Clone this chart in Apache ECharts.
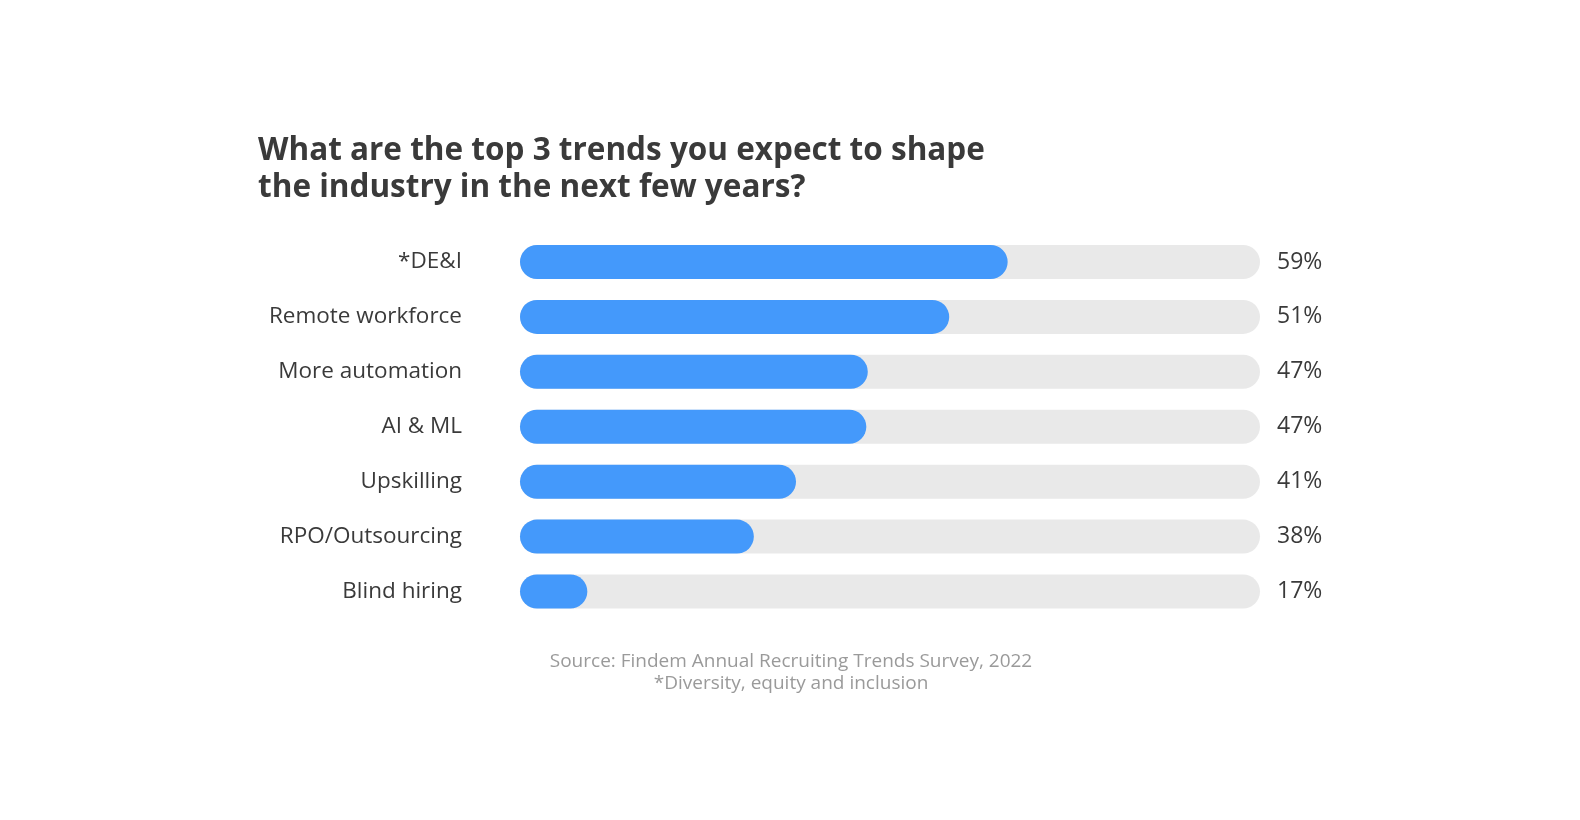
<!DOCTYPE html>
<html>
<head>
<meta charset="utf-8">
<script src="https://cdn.jsdelivr.net/npm/echarts@6/dist/echarts.min.js"></script>
<style>html,body{margin:0;padding:0;background:#fff;overflow:hidden;width:1580px;height:820px;}#c{position:absolute;left:0;top:0;width:1580px;height:820px;}</style>
</head>
<body>
<div id="c"></div>
<script>
const categories = ['*DE&I', 'Remote workforce', 'More automation', 'AI & ML', 'Upskilling', 'RPO/Outsourcing', 'Blind hiring'];
const values = [59, 51, 47, 47, 41, 38, 17];
// drawn bar length as share of the full track
const barShare = [65.9, 58.0, 47.0, 46.8, 37.3, 31.6, 9.1];
const trackMax = 100;

const chart = echarts.init(document.getElementById('c'));
const font = '"Open Sans", sans-serif';
chart.setOption({
  backgroundColor: '#fff',
  title: [{
    text: 'What are the top 3 trends you expect to shape\nthe industry in the next few years?',
    left: 253, top: 127,
    textStyle: { fontFamily: font, fontSize: 31.5, fontWeight: 'bold', color: '#3a3a3a', lineHeight: 37.5 }
  }, {
    text: 'Source: Findem Annual Recruiting Trends Survey, 2022\n*Diversity, equity and inclusion',
    left: 786, top: 645, textAlign: 'center',
    textStyle: { fontFamily: font, fontSize: 19, fontWeight: 400, color: '#9a9a9a', lineHeight: 22.5 }
  }],
  grid: { left: 520, right: 320, top: 234.5, bottom: 201 },
  xAxis: { type: 'value', min: 0, max: trackMax, show: false },
  yAxis: {
    type: 'category', data: categories, inverse: true,
    axisLine: { show: false }, axisTick: { show: false },
    axisLabel: { margin: 58, fontFamily: font, fontSize: 22.5, color: '#3a3a3a', padding: [0, 0, 7, 0] }
  },
  series: [{
    type: 'bar', data: categories.map(() => trackMax), barWidth: 34, barGap: '-100%',
    itemStyle: { color: '#e9e9e9', borderRadius: 17 }, silent: true, z: 1,
    label: {
      show: true, position: 'right', distance: 17,
      fontFamily: font, fontSize: 23, color: '#3a3a3a',
      formatter: p => values[p.dataIndex] + '%'
    }
  }, {
    type: 'bar', data: barShare, barWidth: 34,
    itemStyle: { color: '#4499fb', borderRadius: 17 }, z: 2
  }]
});
</script>
</body>
</html>
